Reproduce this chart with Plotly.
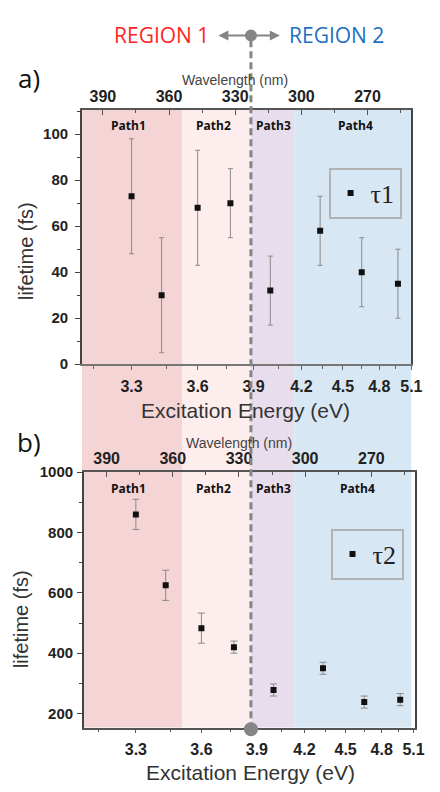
import plotly.graph_objects as go

# ---------------- data ----------------
energy_eV = [3.30, 3.43, 3.60, 3.77, 4.00, 4.33, 4.65, 4.97]
tau1_fs = [73, 30, 68, 70, 32, 58, 40, 35]
tau1_err = [25, 25, 25, 15, 15, 15, 15, 15]
tau2_fs = [860, 625, 483, 420, 278, 350, 238, 246]
tau2_err = [50, 50, 50, 20, 20, 20, 20, 20]

energy_ticks = [3.3, 3.6, 3.9, 4.2, 4.5, 4.8, 5.1]
energy_minor = [3.15, 3.45, 3.75, 4.05, 4.35, 4.65, 4.95]
wavelength_ticks = [390, 360, 330, 300, 270]
wavelength_minor = [375, 345, 315, 285, 255]

path_names = ["Path1", "Path2", "Path3", "Path4"]
path_bounds_eV = [3.525, 3.885, 4.153]   # boundaries between paths
region_split_eV = 3.885
path_colors = ["rgb(245,212,214)", "rgb(253,237,237)", "rgb(232,221,237)", "rgb(215,231,244)"]

HC = 1240.0  # eV*nm


def nm(e):
    return HC / e


W, H = 440, 792


def px(x):
    return x / W


def py(y):
    return (H - y) / H


# ranges (axis is linear in wavelength = 1240/E)
xa_range = [399.3, 243.1]
xa_top_range = [399.5, 250.1]
xb_range = [400.6, 242.4]
xb_top_range = [400.3, 250.2]

fig = go.Figure()

fig.add_trace(go.Scatter(
    x=[nm(e) for e in energy_eV], y=tau1_fs, mode="markers", name="τ1",
    marker=dict(symbol="square", size=6, color="#111"),
    error_y=dict(type="data", array=tau1_err, color="#8a8a8a", thickness=1, width=2.5),
    xaxis="x", yaxis="y", legend="legend"))
fig.add_trace(go.Scatter(
    x=[nm(e) for e in energy_eV], y=tau2_fs, mode="markers", name="τ2",
    marker=dict(symbol="square", size=6, color="#111"),
    error_y=dict(type="data", array=tau2_err, color="#8a8a8a", thickness=1, width=3.5),
    xaxis="x3", yaxis="y2", legend="legend2"))
# invisible traces so the top wavelength axes are rendered
fig.add_trace(go.Scatter(x=wavelength_ticks, y=[None] * len(wavelength_ticks), mode="markers",
                         showlegend=False, hoverinfo="skip", xaxis="x2", yaxis="y"))
fig.add_trace(go.Scatter(x=wavelength_ticks, y=[None] * len(wavelength_ticks), mode="markers",
                         showlegend=False, hoverinfo="skip", xaxis="x4", yaxis="y2"))

yfont = dict(family="Liberation Sans", size=15, color="#222", weight="bold")
bfont = dict(family="Liberation Sans", size=16, color="#222", weight="bold")
topfont = dict(family="Liberation Sans", size=16, color="#222", weight="bold")

common_x = dict(showgrid=False, zeroline=False, showline=True, linewidth=1.5,
                ticklabeloverflow="allow")

fig.update_layout(
    width=W, height=H,
    margin=dict(l=0, r=0, t=0, b=0),
    paper_bgcolor="white", plot_bgcolor="rgba(0,0,0,0)",
    showlegend=True,
    xaxis=dict(domain=[px(84), px(422)], anchor="y", range=xa_range,
               tickvals=[nm(e) for e in energy_ticks], ticktext=[f"{e:.1f}" for e in energy_ticks],
               ticks="outside", ticklen=4, tickcolor="#666", linecolor="#777",
               minor=dict(tickvals=[nm(e) for e in energy_minor], ticks="outside", ticklen=3, tickcolor="#666"),
               tickfont=bfont, ticklabelstandoff=3, **common_x),
    xaxis2=dict(overlaying="x", side="top", anchor="y", range=xa_top_range,
                tickvals=wavelength_ticks, ticktext=[str(v) for v in wavelength_ticks],
                ticks="inside", ticklen=5, tickcolor="#555", linecolor="#555",
                minor=dict(tickvals=wavelength_minor, ticks="inside", ticklen=3, tickcolor="#555"),
                tickfont=topfont, **common_x),
    yaxis=dict(domain=[py(363), py(103)], anchor="x", range=[0, 110.6],
               tickvals=[0, 20, 40, 60, 80, 100], ticks="outside", ticklen=5, tickcolor="#444",
               minor=dict(dtick=10, ticks="outside", ticklen=3, tickcolor="#444"),
               showline=True, linecolor="#444", linewidth=1.5, mirror=True,
               showgrid=False, zeroline=False, tickfont=yfont, ticklabelstandoff=4),
    xaxis3=dict(domain=[px(86), px(425.7)], anchor="y2", range=xb_range,
                tickvals=[nm(e) for e in energy_ticks], ticktext=[f"{e:.1f}" for e in energy_ticks],
                ticks="outside", ticklen=4, tickcolor="#555", linecolor="#555",
                minor=dict(tickvals=[nm(e) for e in energy_minor], ticks="outside", ticklen=3, tickcolor="#555"),
                tickfont=bfont, ticklabelstandoff=3, **common_x),
    xaxis4=dict(overlaying="x3", side="top", anchor="y2", range=xb_top_range,
                tickvals=wavelength_ticks, ticktext=[str(v) for v in wavelength_ticks],
                ticks="inside", ticklen=5, tickcolor="#555", linecolor="#555",
                minor=dict(tickvals=wavelength_minor, ticks="inside", ticklen=3, tickcolor="#555"),
                tickfont=topfont, **common_x),
    yaxis2=dict(domain=[py(734.3), py(473.3)], anchor="x3", range=[153.6, 1000],
                tickvals=[200, 400, 600, 800, 1000], ticks="outside", ticklen=5, tickcolor="#444",
                minor=dict(dtick=100, ticks="outside", ticklen=3, tickcolor="#444"),
                showline=True, linecolor="#444", linewidth=1.5, mirror=True,
                showgrid=False, zeroline=False, tickfont=yfont, ticklabelstandoff=1),
    legend=dict(x=px(337), y=py(162), xanchor="left", yanchor="top",
                bordercolor="#b3b3b3", borderwidth=2, bgcolor="rgba(0,0,0,0)",
                font=dict(family="Liberation Serif", size=26, color="#222"), itemwidth=30),
    legend2=dict(x=px(339), y=py(531), xanchor="left", yanchor="top",
                 bordercolor="#b3b3b3", borderwidth=2, bgcolor="rgba(0,0,0,0)",
                 font=dict(family="Liberation Serif", size=26, color="#222"), itemwidth=30),
)

# ---------------- shading for paths ----------------
edges = [xa_range[0]] + [nm(e) for e in path_bounds_eV] + [xa_range[1]]
shapes = []
for i, c in enumerate(path_colors):
    shapes.append(dict(type="rect", xref="x", yref="paper", x0=edges[i], x1=edges[i + 1],
                       y0=py(734.3), y1=py(103), fillcolor=c, line=dict(width=0), layer="below"))

# region dividing dashed line with circles
xs = nm(region_split_eV)
shapes.append(dict(type="line", xref="x", yref="paper", x0=xs, x1=xs, y0=py(736), y1=py(27),
                   line=dict(color="#858585", width=3, dash="7px,4px")))
for yy, r in [(27, 6), (736, 7)]:
    shapes.append(dict(type="circle", xref="x", yref="paper", xsizemode="pixel", ysizemode="pixel",
                       xanchor=xs, yanchor=py(yy), x0=-r, x1=r, y0=-r, y1=r,
                       fillcolor="#858585", line=dict(width=0)))
fig.update_layout(shapes=shapes)

ann = []


def text(x, y, t, font, **kw):
    ann.append(dict(xref="paper", yref="paper", x=px(x), y=py(y), text=t, showarrow=False,
                    xanchor="center", yanchor="middle", font=font, **kw))


# arrows
ann.append(dict(xref="paper", yref="paper", x=px(224), y=py(27), ax=33, ay=0, showarrow=True,
                arrowhead=2, arrowsize=1, arrowwidth=2, arrowcolor="#858585", text=""))
ann.append(dict(xref="paper", yref="paper", x=px(287), y=py(27), ax=-30, ay=0, showarrow=True,
                arrowhead=2, arrowsize=1, arrowwidth=2, arrowcolor="#858585", text=""))
text(166, 27, "REGION 1", dict(family="Open Sans", size=21, color="#ff2424"))
text(345, 27, "REGION 2", dict(family="Open Sans", size=21, color="#1f6fbf"))
# panel labels
text(30, 71, "a)", dict(family="Open Sans", size=26, color="#111"))
text(30, 442, "b)", dict(family="Open Sans", size=26, color="#111"))
# wavelength titles
text(241, 73, "Wavelength (nm)", dict(family="Liberation Sans", size=14, color="#444"))
text(245, 444, "Wavelength (nm)", dict(family="Liberation Sans", size=14, color="#444"))
# energy titles
text(252, 410, "Excitation Energy (eV)", dict(family="Liberation Sans", size=21, color="#333"))
text(257, 780, "Excitation Energy (eV)", dict(family="Liberation Sans", size=21, color="#333"))
# y titles
text(26, 247, "lifetime (fs)", dict(family="Liberation Sans", size=20, color="#333"), textangle=-90)
text(21, 623, "lifetime (fs)", dict(family="Liberation Sans", size=20, color="#333"), textangle=-90)
# path labels
path_x_a = [132, 219, 281, 365]
path_x_b = [132, 219, 281, 367]
pfont = dict(family="Open Sans", size=12, color="#111", weight="bold")
for name, xa_, xb_ in zip(path_names, path_x_a, path_x_b):
    text(xa_, 119, name, pfont)
    text(xb_, 490, name, pfont)
fig.update_layout(annotations=ann)

fig.write_html("out.html")
